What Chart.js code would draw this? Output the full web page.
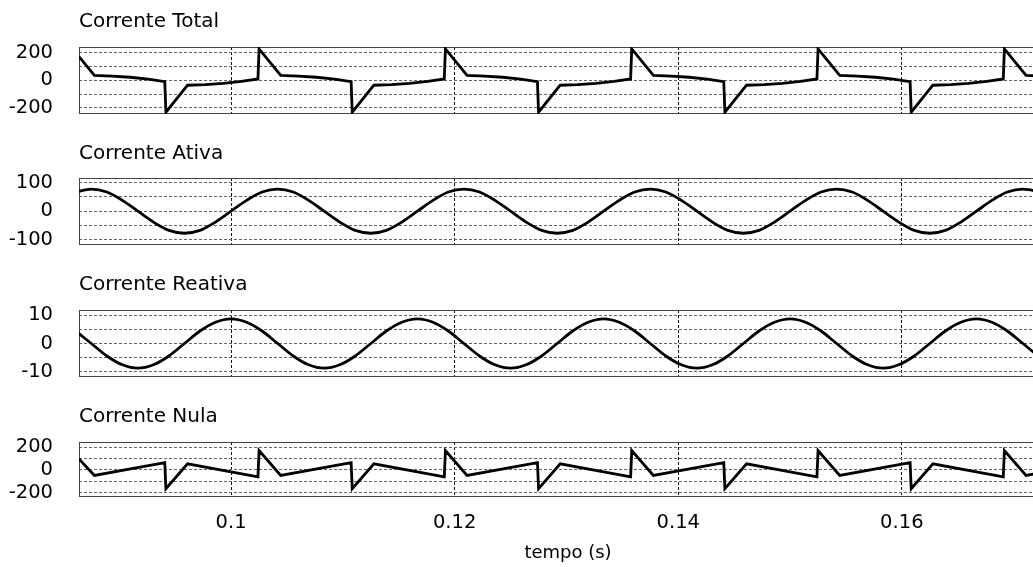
<!DOCTYPE html>
<html><head><meta charset="utf-8">
<script src="https://cdn.jsdelivr.net/npm/chart.js@4.4.1/dist/chart.umd.min.js"></script>
<style>
html,body{margin:0;padding:0;background:#fff;overflow:hidden;width:1033px;height:567px;}
#wrap{position:relative;width:1033px;height:567px;overflow:hidden;background:#fff;}
canvas{position:absolute;left:0;}
.ttl{position:absolute;left:79px;font-family:'DejaVu Sans';font-size:20px;line-height:20px;color:#000;white-space:nowrap;z-index:5;}
</style></head><body><div id="wrap">
<canvas id="c1" width="1080" height="107" style="top:27px"></canvas>
<canvas id="c2" width="1080" height="107" style="top:158px"></canvas>
<canvas id="c3" width="1080" height="107" style="top:290px"></canvas>
<canvas id="c4" width="1080" height="145" style="top:422px"></canvas>
<div class="ttl" style="top:10.4px">Corrente Total</div>
<div class="ttl" style="top:142.1px">Corrente Ativa</div>
<div class="ttl" style="top:273.1px">Corrente Reativa</div>
<div class="ttl" style="top:405.4px">Corrente Nula</div>
</div>
<script>
// ---- data (time in s, current values) ----
const xTicksStep = 0.02;
const totalT = [0.0864, 0.087778, 0.089352, 0.090972, 0.092593, 0.094074, 0.094174, 0.096111, 0.097685, 0.099306, 0.100926, 0.102407, 0.102507,
  0.104444, 0.106019, 0.107639, 0.109259, 0.110741, 0.110841, 0.112778, 0.114352, 0.115972, 0.117593, 0.119074, 0.119174,
  0.121111, 0.122685, 0.124306, 0.125926, 0.127407, 0.127507, 0.129444, 0.131019, 0.132639, 0.134259, 0.135741, 0.135841,
  0.137778, 0.139352, 0.140972, 0.142593, 0.144074, 0.144174, 0.146111, 0.147685, 0.149306, 0.150926, 0.152407, 0.152507,
  0.154444, 0.156019, 0.157639, 0.159259, 0.160741, 0.160841, 0.162778, 0.164352, 0.165972, 0.167593, 0.169074, 0.169174,
  0.171111, 0.172685, 0.174306, 0.175926];
const totalV = [172, 36, 31, 22, 8, -10, -232, -36, -31, -22, -8, 10, 228,
  36, 31, 22, 8, -10, -232, -36, -31, -22, -8, 10, 228,
  36, 31, 22, 8, -10, -232, -36, -31, -22, -8, 10, 228,
  36, 31, 22, 8, -10, -232, -36, -31, -22, -8, 10, 228,
  36, 31, 22, 8, -10, -232, -36, -31, -22, -8, 10, 228,
  36, 31, 22, 8];

const sineT = [0.08611, 0.08750, 0.08889, 0.09028, 0.09167, 0.09306, 0.09444, 0.09583, 0.09722, 0.09861,
  0.10000, 0.10139, 0.10278, 0.10417, 0.10556, 0.10694, 0.10833, 0.10972, 0.11111, 0.11250,
  0.11389, 0.11528, 0.11667, 0.11806, 0.11944, 0.12083, 0.12222, 0.12361, 0.12500, 0.12639,
  0.12778, 0.12917, 0.13056, 0.13194, 0.13333, 0.13472, 0.13611, 0.13750, 0.13889, 0.14028,
  0.14167, 0.14306, 0.14444, 0.14583, 0.14722, 0.14861, 0.15000, 0.15139, 0.15278, 0.15417,
  0.15556, 0.15694, 0.15833, 0.15972, 0.16111, 0.16250, 0.16389, 0.16528, 0.16667, 0.16806,
  0.16944, 0.17083, 0.17222, 0.17361, 0.17500];
const activeV = [67, 77, 67, 38, 0, -38, -67, -77, -67, -38, 0, 38,
  67, 77, 67, 38, 0, -38, -67, -77, -67, -38, 0, 38,
  67, 77, 67, 38, 0, -38, -67, -77, -67, -38, 0, 38,
  67, 77, 67, 38, 0, -38, -67, -77, -67, -38, 0, 38,
  67, 77, 67, 38, 0, -38, -67, -77, -67, -38, 0, 38,
  67, 77, 67, 38, 0];
const reactiveV = [4.4, 0, -4.4, -7.5, -8.7, -7.5, -4.4, 0, 4.4, 7.5, 8.7, 7.5,
  4.4, 0, -4.4, -7.5, -8.7, -7.5, -4.4, 0, 4.4, 7.5, 8.7, 7.5,
  4.4, 0, -4.4, -7.5, -8.7, -7.5, -4.4, 0, 4.4, 7.5, 8.7, 7.5,
  4.4, 0, -4.4, -7.5, -8.7, -7.5, -4.4, 0, 4.4, 7.5, 8.7, 7.5,
  4.4, 0, -4.4, -7.5, -8.7, -7.5, -4.4, 0, 4.4, 7.5, 8.7, 7.5,
  4.4, 0, -4.4, -7.5, -8.7];

const nullT = [0.0864, 0.087778, 0.094074, 0.094174, 0.096111, 0.102407, 0.102507, 0.104444, 0.110741, 0.110841, 0.112778,
  0.119074, 0.119174, 0.121111, 0.127407, 0.127507, 0.129444, 0.135741, 0.135841, 0.137778, 0.144074, 0.144174, 0.146111,
  0.152407, 0.152507, 0.154444, 0.160741, 0.160841, 0.162778, 0.169074, 0.169174, 0.171111, 0.177407];
const nullV = [95, -50, 62, -166, 52, -62, 168, -50, 62, -166, 52,
  -62, 168, -50, 62, -166, 52, -62, 168, -50, 62, -166, 52,
  -62, 168, -50, 62, -166, 52, -62, 168, -50, 62];

const X_MIN = 0.0864, X_MAX = 0.17388;

function pts(T, V) { return T.map((t, i) => ({ x: t, y: V[i] })); }

const framePlugin = {
  id: 'frame',
  beforeDatasetsDraw(chart) {
    const a = chart.chartArea, c = chart.ctx;
    const l = Math.round(a.left), t = Math.round(a.top), r = Math.round(a.right), b = Math.round(a.bottom);
    c.save();
    c.setLineDash([]);
    c.strokeStyle = '#444';
    c.lineWidth = 1;
    c.strokeRect(l + 0.5, t + 0.5, r - l - 1, b - t - 1);
    c.restore();
  }
};

const FONT = 'DejaVu Sans';
Chart.defaults.font.family = FONT;

function makePanel(id, data, smooth, yMin, yMax, yStep, labelStep, isLast) {
  return new Chart(document.getElementById(id), {
    type: 'line',
    data: { datasets: [{
      data: data, borderColor: '#000', borderWidth: 2.8, pointRadius: 0, pointHoverRadius: 0,
      fill: false, tension: 0, cubicInterpolationMode: smooth ? 'monotone' : 'default',
      borderJoinStyle: 'miter'
    }] },
    options: {
      responsive: false, animation: false, devicePixelRatio: 1,
      events: [],
      layout: { padding: { left: 0, right: 23, top: 20, bottom: isLast ? 0 : 20 } },
      plugins: { legend: { display: false }, tooltip: { enabled: false }, title: { display: false } },
      scales: {
        x: {
          type: 'linear', min: X_MIN, max: X_MAX,
          ticks: { display: isLast, stepSize: xTicksStep, includeBounds: false, autoSkip: false, maxRotation: 0,
            padding: 14, color: '#000', font: { family: FONT, size: 19.5 },
            callback: v => String(Math.round(v * 100) / 100) },
          grid: { color: '#111', lineWidth: 1, drawTicks: false },
          border: { display: false, dash: [3, 2] },
          title: { display: isLast, text: 'tempo (s)', color: '#000', font: { family: FONT, size: 18 }, padding: { top: 0, bottom: 3 } },
          afterFit: s => { s.height = isLast ? 70 : 0; }
        },
        y: {
          type: 'linear', min: yMin, max: yMax,
          ticks: { stepSize: yStep, includeBounds: false, autoSkip: false, maxTicksLimit: 20, padding: 0, color: '#000',
            font: { family: FONT, size: 19.5 },
            callback: v => (Math.abs(v % labelStep) < 1e-9 ? String(v) : '') },
          grid: { color: '#666', lineWidth: 1, drawTicks: true, tickLength: 26, tickColor: 'rgba(0,0,0,0)' },
          border: { display: false, dash: [3, 2] },
          afterFit: s => { s.width = 79; }
        }
      }
    },
    plugins: [framePlugin]
  });
}

makePanel('c1', pts(totalT, totalV), false, -245, 242, 100, 200, false);
makePanel('c2', pts(sineT, activeV), true, -118, 116, 50, 100, false);
makePanel('c3', pts(sineT, reactiveV), true, -11.8, 11.8, 5, 10, false);
makePanel('c4', pts(nullT, nullV), false, -239, 244, 100, 200, true);
</script>
</body></html>
